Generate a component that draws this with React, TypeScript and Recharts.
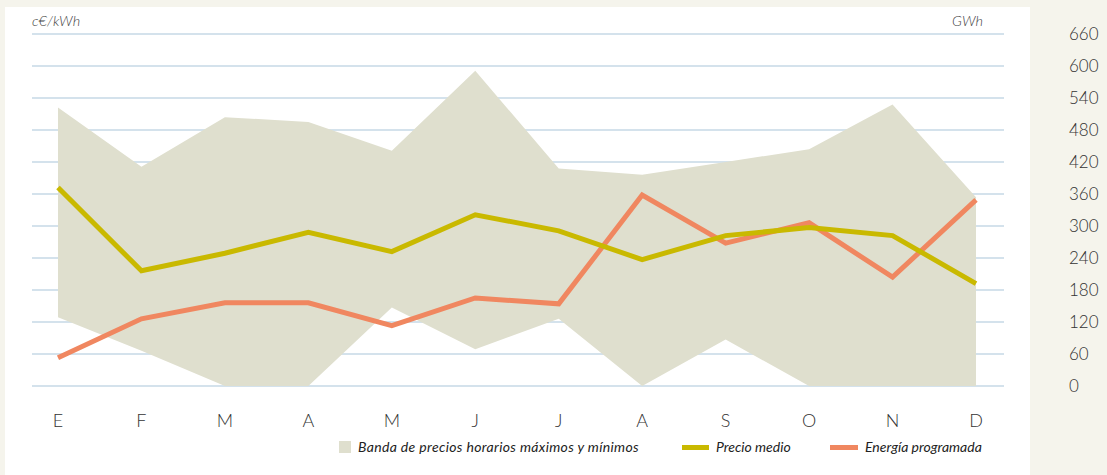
import React from 'react';
import {
  ComposedChart,
  Area,
  Line,
  XAxis,
  YAxis,
  CartesianGrid,
} from 'recharts';

// meses
const meses = ['E', 'F', 'M', 'A', 'M', 'J', 'J', 'A', 'S', 'O', 'N', 'D'];

// c€/kWh (eje izquierdo, sin marcas)
const precioMax = [8.7, 6.85, 8.4, 8.25, 7.35, 9.85, 6.8, 6.6, 7.0, 7.4, 8.8, 5.9];
const precioMin = [2.15, 1.1, 0, 0, 2.45, 1.15, 2.1, 0, 1.45, 0, 0, 0];
const precioMedio = [6.2, 3.6, 4.15, 4.8, 4.2, 5.35, 4.85, 3.95, 4.7, 4.95, 4.7, 3.2];

// GWh (eje derecho)
const energiaProgramada = [53, 126, 156, 156, 113, 165, 154, 358, 268, 306, 204, 349];
const ticksGWh = [0, 60, 120, 180, 240, 300, 360, 420, 480, 540, 600, 660];

const data = meses.map((mes, i) => ({
  idx: i,
  mes,
  banda: [precioMin[i], precioMax[i]],
  medio: precioMedio[i],
  energia: energiaProgramada[i],
}));

const BAND = '#dfdfce';
const YELLOW = '#c9b900';
const ORANGE = '#f08760';
const GRID = '#c6d9e6';

const legendText: React.CSSProperties = {
  position: 'absolute',
  top: 438,
  fontSize: 14,
  fontStyle: 'italic',
  color: '#222',
  whiteSpace: 'nowrap',
  lineHeight: '18px',
};

export default function App() {
  return (
    <div
      style={{
        position: 'fixed',
        left: 0,
        top: 0,
        width: 1107,
        height: 475,
        background: '#f5f4ec',
        overflow: 'hidden',
        fontFamily: 'Lato, sans-serif',
      }}
    >
      <div style={{ position: 'absolute', left: 5, top: 7, width: 1025, height: 468, background: '#fff' }} />

      <div style={{ position: 'absolute', left: 0, top: 0 }}>
        <ComposedChart
          width={1107}
          height={475}
          data={data}
          margin={{ top: 34, right: 10, bottom: 59, left: 32 }}
        >
          <CartesianGrid
            yAxisId="gwh"
            vertical={false}
            stroke={GRID}
            strokeWidth={1.5}
          />
          <XAxis
            dataKey="idx"
            type="number"
            domain={[0, 11]}
            ticks={data.map((d) => d.idx)}
            tickFormatter={(i: number) => meses[i]}
            padding={{ left: 26, right: 28 }}
            height={30}
            axisLine={false}
            tickLine={false}
            tickSize={0}
            tickMargin={28}
            interval={0}
            tick={{ fontSize: 18, fill: '#333', fontWeight: 300 }}
          />
          <YAxis yAxisId="precio" hide domain={[0, 11]} />
          <YAxis
            yAxisId="gwh"
            orientation="right"
            domain={[0, 660]}
            ticks={ticksGWh}
            width={93}
            axisLine={false}
            tickLine={false}
            tickSize={0}
            tickMargin={65}
            tick={{ fontSize: 17, fill: '#333', fontWeight: 300, textAnchor: 'start' }}
          />
          <Area
            yAxisId="precio"
            type="linear"
            dataKey="banda"
            fill={BAND}
            fillOpacity={1}
            stroke="none"
            isAnimationActive={false}
          />
          <Line
            yAxisId="gwh"
            type="linear"
            dataKey="energia"
            stroke={ORANGE}
            strokeWidth={5}
            dot={false}
            isAnimationActive={false}
          />
          <Line
            yAxisId="precio"
            type="linear"
            dataKey="medio"
            stroke={YELLOW}
            strokeWidth={5}
            dot={false}
            isAnimationActive={false}
          />
        </ComposedChart>
      </div>

      <div style={{ position: 'absolute', left: 32, top: 12, fontSize: 14.5, fontStyle: 'italic', fontWeight: 300, color: '#444' }}>
        c€/kWh
      </div>
      <div style={{ position: 'absolute', left: 952, top: 12, fontSize: 14.5, fontStyle: 'italic', fontWeight: 300, color: '#444' }}>
        GWh
      </div>

      {/* leyenda */}
      <div style={{ position: 'absolute', left: 339, top: 441, width: 12, height: 12, background: BAND }} />
      <div style={{ ...legendText, left: 358, letterSpacing: 0.35 }}>Banda de precios horarios máximos y mínimos</div>
      <div style={{ position: 'absolute', left: 682, top: 445, width: 27, height: 5, background: YELLOW }} />
      <div style={{ ...legendText, left: 716 }}>Precio medio</div>
      <div style={{ position: 'absolute', left: 830, top: 445, width: 28, height: 5, background: ORANGE }} />
      <div style={{ ...legendText, left: 865 }}>Energía programada</div>
    </div>
  );
}
